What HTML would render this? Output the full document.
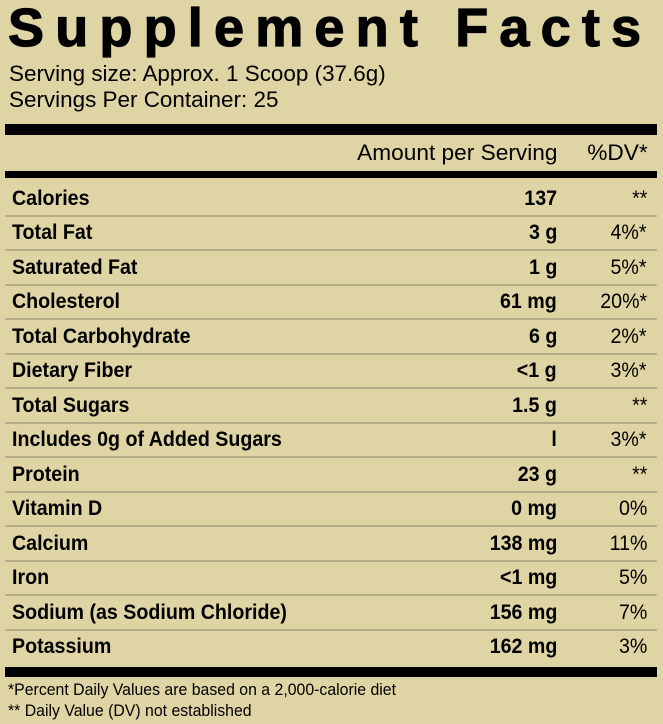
<!DOCTYPE html>
<html><head><meta charset="utf-8"><style>
body{margin:0;width:663px;height:724px;background:#dfd4a3;font-family:"Liberation Sans",sans-serif;position:relative;overflow:hidden;color:#000}
.a{position:absolute;white-space:nowrap}
.l{transform-origin:left center}
.r{transform-origin:right center;text-align:right}
.bar{position:absolute;left:5px;width:652px;background:#000}
.sep{position:absolute;left:5px;width:652px;height:2px;background:#b5ad8a}
.row{position:absolute;left:0;width:663px;height:34px;font-size:21px;line-height:34px}
.row .a{transform:scaleX(.935)}
</style></head><body>
<div class="a" style="left:8px;top:-2px;font-size:54px;font-weight:bold;letter-spacing:11.2px;line-height:60px;-webkit-text-stroke:1.2px #000">Supplement Facts</div>
<div class="a l" style="left:9px;top:61px;font-size:22px;line-height:26px;transform:scaleX(1.02)">Serving size: Approx. 1 Scoop (37.6g)</div>
<div class="a l" style="left:9px;top:87px;font-size:22px;line-height:26px;transform:scaleX(1.02)">Servings Per Container: 25</div>
<div class="bar" style="top:124px;height:11px"></div>
<div class="a r" style="right:106px;top:139px;font-size:22px;line-height:28px;transform:scaleX(1.03)">Amount per Serving</div>
<div class="a r" style="right:15px;top:139px;font-size:22px;line-height:28px;transform:scaleX(1.03)">%DV*</div>
<div class="bar" style="top:171px;height:7px"></div>
<div id="rows"></div>
<div class="bar" style="top:667px;height:10px"></div>
<div class="a l" style="left:8px;top:680px;font-size:16.5px;line-height:20px;transform:scaleX(.96)">*Percent Daily Values are based on a 2,000-calorie diet</div>
<div class="a l" style="left:8px;top:701px;font-size:16.5px;line-height:20px;transform:scaleX(.96)">** Daily Value (DV) not established</div>
<script>
var d=[["Calories","137","**"],["Total Fat","3 g","4%*"],["Saturated Fat","1 g","5%*"],["Cholesterol","61 mg","20%*"],["Total Carbohydrate","6 g","2%*"],["Dietary Fiber","<1 g","3%*"],["Total Sugars","1.5 g","**"],["Includes 0g of Added Sugars","l","3%*"],["Protein","23 g","**"],["Vitamin D","0 mg","0%"],["Calcium","138 mg","11%"],["Iron","<1 mg","5%"],["Sodium (as Sodium Chloride)","156 mg","7%"],["Potassium","162 mg","3%"]];
var h="";
d.forEach(function(r,i){var c=199+i*34.46;
h+='<div class="row" style="top:'+(c-17)+'px"><div class="a l" style="left:12px;font-weight:bold">'+r[0].replace("<","&lt;")+'</div><div class="a r" style="right:106px;font-weight:bold">'+r[1].replace("<","&lt;")+'</div><div class="a r" style="right:16px">'+r[2]+'</div></div>';
if(i<d.length-1)h+='<div class="sep" style="top:'+(c+16)+'px"></div>';});
document.getElementById("rows").innerHTML=h;
</script>
</body></html>
